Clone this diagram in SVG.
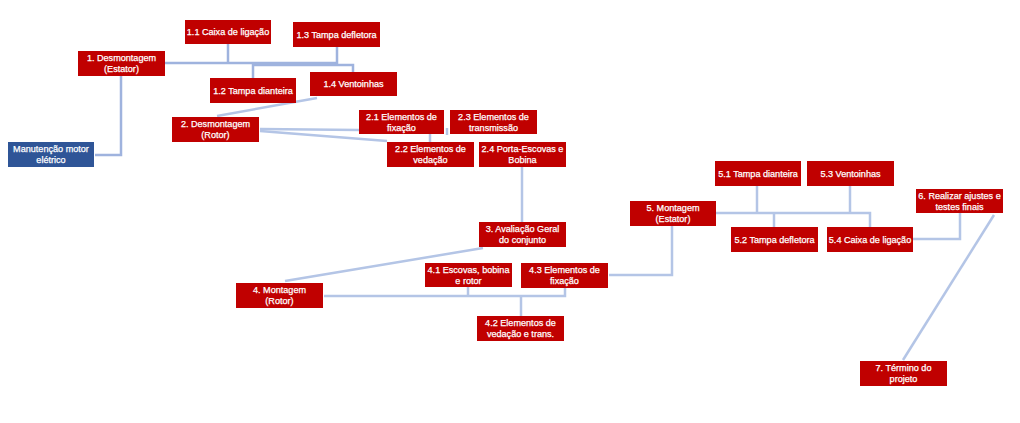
<svg xmlns="http://www.w3.org/2000/svg" width="1020" height="423" viewBox="0 0 1020 423">
<style>
.b{fill:#C00000}
.m{fill:#2F5597}
.t{fill:#fff;stroke:#fff;stroke-width:0.25;font-family:"Liberation Sans",Arial,sans-serif;font-size:9.1px;text-anchor:middle}
.c{fill:none;stroke:#B4C5E6;stroke-width:2.5}
.d{fill:none;stroke:#9FB3DE;stroke-width:2.5}
</style>
<rect width="1020" height="423" fill="#fff"/>
<g id="connectors">
<polyline class="d" points="121,76 121,155 95,155"/>
<polyline class="d" points="165,63 337,63"/>
<polyline class="d" points="228,44 228,63"/>
<polyline class="d" points="337,47 337,65"/>
<polyline class="d" points="253,78 253,65 353,65 353,72"/>
<line class="c" x1="317" y1="98" x2="217" y2="116"/>
<line class="c" x1="260" y1="129" x2="359" y2="130"/>
<line class="c" x1="260" y1="131" x2="387" y2="141"/>
<line class="c" x1="430" y1="134" x2="430" y2="142"/>
<line class="c" x1="447" y1="128" x2="447" y2="135"/>
<line class="c" x1="522" y1="167" x2="522" y2="222"/>
<line class="c" x1="285" y1="281" x2="483" y2="248"/>
<polyline class="c" points="324,296 565,296 565,288"/>
<line class="c" x1="468" y1="287" x2="468" y2="296"/>
<line class="c" x1="521" y1="296" x2="521" y2="316"/>
<polyline class="c" points="609,275 672,275 672,226"/>
<polyline class="c" points="716,213 870,213 870,227"/>
<line class="c" x1="757" y1="186" x2="757" y2="213"/>
<line class="c" x1="850" y1="186" x2="850" y2="213"/>
<line class="c" x1="774" y1="213" x2="774" y2="227"/>
<polyline class="c" points="913,239 960,239 960,213"/>
<line class="c" x1="994" y1="215" x2="903" y2="360"/>
</g>
<g id="n0"><rect class="m" x="8" y="142" width="86" height="25"/><text class="t" x="51" y="152">Manutenção motor</text><text class="t" x="51" y="163">elétrico</text></g>
<g id="n1"><rect class="b" x="78" y="51" width="87" height="25"/><text class="t" x="121.5" y="61">1. Desmontagem</text><text class="t" x="121.5" y="72">(Estator)</text></g>
<g id="n11"><rect class="b" x="185" y="20" width="86" height="24"/><text class="t" x="228" y="35">1.1 Caixa de ligação</text></g>
<g id="n12"><rect class="b" x="210" y="78" width="86" height="25"/><text class="t" x="253" y="94">1.2 Tampa dianteira</text></g>
<g id="n13"><rect class="b" x="293" y="22" width="87" height="25"/><text class="t" x="336.5" y="38">1.3 Tampa defletora</text></g>
<g id="n14"><rect class="b" x="310" y="72" width="87" height="24"/><text class="t" x="353.5" y="87">1.4 Ventoinhas</text></g>
<g id="n2"><rect class="b" x="172" y="117" width="87" height="25"/><text class="t" x="215.5" y="127">2. Desmontagem</text><text class="t" x="215.5" y="138">(Rotor)</text></g>
<g id="n21"><rect class="b" x="359" y="110" width="85" height="24"/><text class="t" x="401.5" y="119.5">2.1 Elementos de</text><text class="t" x="401.5" y="130.5">fixação</text></g>
<g id="n23"><rect class="b" x="450" y="110" width="87" height="24"/><text class="t" x="493.5" y="119.5">2.3 Elementos de</text><text class="t" x="493.5" y="130.5">transmissão</text></g>
<g id="n22"><rect class="b" x="387" y="142" width="87" height="25"/><text class="t" x="430.5" y="152">2.2 Elementos de</text><text class="t" x="430.5" y="163">vedação</text></g>
<g id="n24"><rect class="b" x="479" y="142" width="87" height="25"/><text class="t" x="522.5" y="152">2.4 Porta-Escovas e</text><text class="t" x="522.5" y="163">Bobina</text></g>
<g id="n3"><rect class="b" x="479" y="222" width="87" height="25"/><text class="t" x="522.5" y="232">3. Avaliação Geral</text><text class="t" x="522.5" y="243">do conjunto</text></g>
<g id="n4"><rect class="b" x="236" y="283" width="87" height="25"/><text class="t" x="279.5" y="293">4. Montagem</text><text class="t" x="279.5" y="304">(Rotor)</text></g>
<g id="n41"><rect class="b" x="425" y="263" width="87" height="24"/><text class="t" x="468.5" y="272.5">4.1 Escovas, bobina</text><text class="t" x="468.5" y="283.5">e rotor</text></g>
<g id="n43"><rect class="b" x="521" y="263" width="87" height="25"/><text class="t" x="564.5" y="273">4.3 Elementos de</text><text class="t" x="564.5" y="284">fixação</text></g>
<g id="n42"><rect class="b" x="477" y="316" width="87" height="25"/><text class="t" x="520.5" y="326">4.2 Elementos de</text><text class="t" x="520.5" y="337">vedação e trans.</text></g>
<g id="n5"><rect class="b" x="630" y="201" width="86" height="25"/><text class="t" x="673" y="211">5. Montagem</text><text class="t" x="673" y="222">(Estator)</text></g>
<g id="n51"><rect class="b" x="715" y="161" width="86" height="25"/><text class="t" x="758" y="177">5.1 Tampa dianteira</text></g>
<g id="n53"><rect class="b" x="807" y="161" width="87" height="25"/><text class="t" x="850.5" y="177">5.3 Ventoinhas</text></g>
<g id="n52"><rect class="b" x="731" y="227" width="87" height="25"/><text class="t" x="774.5" y="243">5.2 Tampa defletora</text></g>
<g id="n54"><rect class="b" x="827" y="227" width="86" height="25"/><text class="t" x="870" y="243">5.4 Caixa de ligação</text></g>
<g id="n6"><rect class="b" x="916" y="189" width="87" height="24"/><text class="t" x="959.5" y="198.5">6. Realizar ajustes e</text><text class="t" x="959.5" y="209.5">testes finais</text></g>
<g id="n7"><rect class="b" x="860" y="361" width="87" height="25"/><text class="t" x="903.5" y="371">7. Término do</text><text class="t" x="903.5" y="382">projeto</text></g>
</svg>
